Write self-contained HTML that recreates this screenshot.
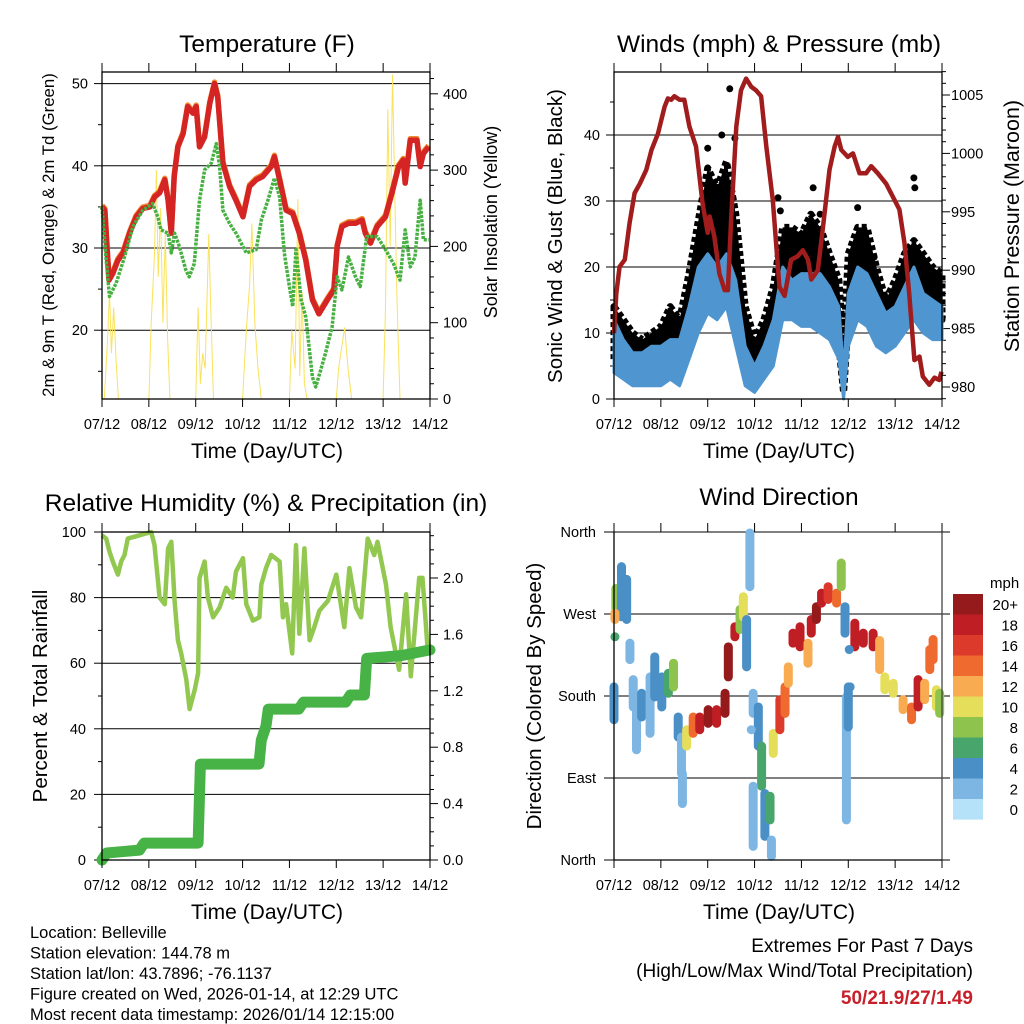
<!DOCTYPE html>
<html><head><meta charset="utf-8"><style>
html,body{margin:0;padding:0;background:#fff;}
svg{display:block;font-family:"Liberation Sans",sans-serif;}
</style></head><body>
<svg id="c" width="1024" height="1024" viewBox="0 0 1024 1024" xmlns="http://www.w3.org/2000/svg">
<rect width="1024" height="1024" fill="#fff"/>
</svg>
<script>
// ---------- DATA ----------
const dayLabels=["07/12","08/12","09/12","10/12","11/12","12/12","13/12","14/12"];
const tDays=[0,.06,.15,.23,.34,.45,.59,.73,.87,1.02,1.12,1.23,1.34,1.41,1.48,1.54,1.62,1.73,1.83,1.94,2.01,2.08,2.19,2.3,2.4,2.47,2.58,2.72,2.86,3.01,3.15,3.29,3.43,3.61,3.68,3.79,3.93,4.07,4.21,4.35,4.49,4.63,4.81,4.95,5.02,5.12,5.26,5.41,5.55,5.62,5.73,5.87,6.05,6.19,6.33,6.43,6.47,6.58,6.72,6.79,6.86,6.97];
const tempF=[35,34.6,26.1,26.9,28.5,29.4,31.8,33.8,34.8,35,36.2,36.7,38.3,35.8,31.8,38.7,42.3,43.9,47.2,46.4,47.2,42.3,43.5,47.6,50,48.4,40.3,37.5,35.8,33.8,37.5,38.3,38.7,39.9,41.1,38.3,34.6,34.2,31.8,28.5,23.7,22,23.7,24.9,30.2,32.6,33,33,33.4,31.8,30.6,32.6,33.8,36.7,39.9,40.7,37.9,43.1,43.1,39.9,41.5,42.3];
const tdDays=[0,.09,.16,.3,.48,.66,.87,1.08,1.19,1.26,1.41,1.48,1.55,1.65,1.79,1.86,1.97,2.08,2.19,2.33,2.44,2.51,2.58,2.72,2.86,3.08,3.29,3.4,3.54,3.68,3.79,3.89,4,4.07,4.14,4.25,4.35,4.49,4.56,4.67,4.77,4.91,5.02,5.12,5.26,5.41,5.51,5.65,5.87,6.05,6.22,6.36,6.47,6.58,6.68,6.79,6.86,6.97];
const dewF=[35,28.5,24.1,25.7,28.9,32.6,34.6,35.4,33.8,32.2,31.8,29.4,31.8,30.2,27.3,26.5,28.1,35.8,39.5,40.3,42.7,39.9,34.6,33,31.8,29.4,29.8,33.4,35.8,38.5,36.2,29.4,25.3,22.9,29.8,23.7,21.6,14.3,13.1,15.2,17.2,20.4,26.5,24.9,28.9,26.5,25.3,31.4,31.4,29.8,28.1,26.1,32.2,27.7,28.9,35.8,31,31];
const solDays=[0,.05,.12,.16,.2,.25,.3,.35,1,1.05,1.12,1.16,1.2,1.25,1.3,1.35,1.4,1.45,2,2.05,2.1,2.15,2.2,2.28,2.32,2.38,3,3.08,3.15,3.2,3.26,3.33,3.4,4,4.05,4.12,4.18,4.22,4.27,4.32,4.38,5,5.05,5.12,5.18,5.25,5.33,6,6.05,6.1,6.15,6.2,6.25,6.3,6.36,7];
const solarW=[0,0,80,140,60,120,50,0,0,100,190,300,160,250,100,216,80,0,0,120,20,60,40,216,120,0,0,90,150,230,100,40,0,0,90,40,262,30,140,20,0,0,40,70,94,40,0,0,120,380,200,425,260,120,0,0];

const pDays=[0,.05,.12,.23,.33,.44,.55,.69,.8,.94,1.08,1.15,1.22,1.29,1.4,1.5,1.61,1.75,1.89,2,2.04,2.14,2.25,2.36,2.43,2.5,2.61,2.71,2.82,2.93,3.03,3.14,3.25,3.39,3.53,3.64,3.78,3.92,4.03,4.14,4.21,4.35,4.46,4.6,4.71,4.78,4.85,4.99,5.1,5.24,5.38,5.49,5.63,5.81,5.95,6.09,6.2,6.3,6.41,6.52,6.59,6.73,6.84,6.94,6.99];
const pressMb=[984.6,988,990.3,990.9,994,996.6,997.4,998.6,1000.3,1001.7,1004,1004.7,1004.6,1004.9,1004.6,1004.6,1002.3,1000.6,995.7,993.2,994.6,992.9,989.7,988.3,988.3,994.3,1002.3,1005.4,1006.4,1005.7,1005.4,1004.9,1000.6,996,988.6,987.8,990.9,991.2,991.7,990.9,989.2,990,993.7,998.6,1000.6,1001.4,1000.3,999.7,1000,998.3,998.3,998.9,998.3,997.4,996.3,995.2,992.3,988,982.3,982.6,980.9,980.2,980.8,980.6,981.3];
const wDays=[0,.2,.4,.6,.8,1,1.2,1.4,1.6,1.8,2,2.2,2.4,2.6,2.8,3,3.2,3.4,3.6,3.8,4,4.2,4.4,4.6,4.8,4.9,5,5.2,5.4,5.6,5.8,6,6.2,6.4,6.6,6.8,7];
const windLo=[4,3,2,2,2,2,3,2,6,10,13,12,14,8,2,1,3,5,12,12,11,11,10,9,6,0,8,12,11,8,7,8,10,12,10,9,9];
const windHi=[12,9,7,7,8,8,9,9,14,20,22,20,22,18,8,5,8,12,20,18,19,19,19,17,14,4,16,20,19,16,13,14,17,20,16,15,14];
const gustLo=[6,5,4,4,4,5,6,5,9,14,18,18,20,10,4,2,5,8,15,16,15,14,13,11,8,1,12,15,15,12,8,10,14,14,12,12,12];
const gustHi=[14,12,10,9,10,11,14,12,19,27,35,32,36,28,14,9,12,17,26,26,25,28,26,22,18,8,22,26,26,20,15,18,22,24,22,20,19];
const gustDotDays=[2.47,3.5,3.55,4.25,2.0,6.4,6.42,5.2,5.55,4.4,2.58,1.7,2.3];
const gustDotMph=[47,30.5,28.5,32,38,33.5,32,29,21.5,28,39.5,20,40];

const rhDays=[0,.09,.16,.23,.34,.41,.48,.55,.8,1.05,1.12,1.23,1.34,1.41,1.48,1.55,1.62,1.69,1.8,1.87,1.98,2.05,2.08,2.19,2.26,2.37,2.51,2.65,2.79,2.86,3.01,3.08,3.22,3.36,3.4,3.5,3.61,3.79,3.86,3.93,4.06,4.14,4.21,4.32,4.43,4.53,4.64,4.82,5,5.17,5.28,5.42,5.53,5.67,5.81,5.88,6.06,6.16,6.34,6.49,6.59,6.77,6.84,6.95,7];
const rhPct=[99,98,94,91,87,91,93,98,99,100,96,80,78,95,97,79,67,63,55,46,52,57,86,91,80,74,77,83,80,88,92,78,73,74,84,89,93,91,74,78,63,96,69,95,67,71,76,79,87,71,89,77,74,98,93,97,84,71,58,81,56,86,86,64,64];
const prDays=[0,.1,.8,.9,2.05,2.1,3.35,3.4,3.5,3.55,4.2,4.3,5.2,5.3,5.6,5.65,6.4,7];
const precipIn=[0,.05,.07,.12,.12,.68,.68,.85,.95,1.07,1.07,1.12,1.12,1.17,1.17,1.43,1.45,1.49];

// wind direction streaks: day, dir low, dir high, speed
const wdDays=[0,.04,.16,.27,.34,.41,.48,.59,.77,.87,1.02,1.16,1.27,1.37,1.44,1.46,1.55,1.69,1.83,2.01,2.19,2.37,2.44,2.58,2.69,2.76,2.83,2.9,2.97,3.08,3.15,3.22,3.33,2.97,3.36,3.4,3.54,3.65,3.72,3.82,3.97,4.14,4.21,4.32,4.43,4.57,4.75,4.85,4.93,4.96,5,5.14,5.32,5.53,5.67,5.78,5.96,6.17,6.35,6.49,6.63,6.74,6.81,6.88,6.95,.02,.02,2.93,5.04,5.02];
const wdLo=[154,276,267,264,220,168,121,157,139,179,168,183,190,135,95,62,125,139,143,150,150,161,201,245,253,267,212,300,161,125,81,26,44,15,4,117,143,161,194,238,234,216,249,264,282,286,282,300,249,44,146,234,238,234,209,187,183,165,154,168,176,209,220,168,161,264,245,143,190,231];
const wdHi=[190,298,322,308,238,198,168,183,201,223,201,205,216,157,135,95,143,157,157,165,165,183,234,256,275,289,264,359,183,168,125,73,70,81,22,139,176,190,212,249,256,238,264,278,293,300,293,326,278,179,190,260,249,249,241,201,194,176,168,198,194,231,242,187,183,271,245,143,190,231];
const wdSpeed=[4,8,4,3,2,2,2,3,2,3,4,6,7,4,2,2,9,13,17,19,18,19,20,18,8,9,3,1,1,4,6,4,6,1,1,10,16,14,12,17,18,11,18,20,17,16,14,8,4,2,4,17,18,17,12,9,9,11,14,17,12,13,14,9,7,12,6,1,4,4];
const cbLabels=["20+","18","16","14","12","10","8","6","4","2","0"];
const cbColors=["#951a1c","#bf1f24","#dc3a2b","#ee6a2e","#f8ab50","#e5de5b","#8ec44e","#48a56c","#4a8fc6","#7db6e3","#b5e2f8"];

// ---------- HELPERS ----------
const NS="http://www.w3.org/2000/svg";
const svg=document.getElementById('c');
const TICK=14.5, TITLE=24.5, AXT=21;
function mk(tag,attrs,parent){const e=document.createElementNS(NS,tag);for(const k in attrs)e.setAttribute(k,attrs[k]);(parent||svg).appendChild(e);return e;}
function txt(s,x,y,size,anchor,parent,extra){const e=mk('text',Object.assign({x:x,y:y,'font-size':size,'text-anchor':anchor||'middle',fill:'#000'},extra||{}),parent);e.textContent=s;return e;}
function grp(name){const g=mk('g',{});return g;}
function poly(xs,ys,fx,fy){return xs.map((d,i)=>fx(d).toFixed(1)+','+fy(ys[i]).toFixed(1)).join(' ');}

function frame(g,L,R,T,B){mk('rect',{x:L,y:T,width:R-L,height:B-T,fill:'none',stroke:'#000','stroke-width':1.3},g);}
function xAxis(g,L,fx,T,B){
  dayLabels.forEach((lab,i)=>{const x=fx(i);
    mk('line',{x1:x,x2:x,y1:B,y2:B+8,stroke:'#000','stroke-width':1},g);
    mk('line',{x1:x,x2:x,y1:T,y2:T-9,stroke:'#000','stroke-width':1},g);
    const t=txt(lab,x,B+30,TICK,'middle',g);});
}
function hgrid(g,L,R,y){mk('line',{x1:L,x2:R,y1:y,y2:y,stroke:'#000','stroke-width':1},g);}

// ---------- PANEL 1: TEMPERATURE ----------
(function(){
const g=grp('temperature-panel');
const L=102,R=430,T=72,B=399;
const fx=d=>L+d*(R-L)/7;
const fy=v=>248-(v-30)*8.22;
const fw=w=>399-w*0.763;
const t=txt('Temperature (F)',267,52,TITLE,'middle',g);
[20,30,40,50].forEach(v=>hgrid(g,L,R,fy(v)));
for(let v=15;v<=50;v+=5){const y=fy(v);mk('line',{x1:L,x2:L-(v%10?4:8),y1:y,y2:y,stroke:'#000'},g);if(v%10===0){const l=txt(String(v),L-14,y+5,TICK,'end',g);}}
for(let w=0;w<=420;w+=20){const y=fw(w);mk('line',{x1:R,x2:R+(w%100?4:8),y1:y,y2:y,stroke:'#000'},g);if(w%100===0){const l=txt(String(w),R+13,y+5,TICK,'start',g);}}
const s=mk('polyline',{points:poly(solDays,solarW,fx,fw),fill:'none',stroke:'#f9e25c','stroke-width':1},g);

const o=mk('polyline',{points:poly(tDays,tempF,fx,fy),fill:'none',stroke:'#f08a30','stroke-width':5.5,'stroke-linejoin':'round',transform:'translate(0,-1.5)'},g);

const r=mk('polyline',{points:poly(tDays,tempF,fx,fy),fill:'none',stroke:'#d42424','stroke-width':5.5,'stroke-linejoin':'round'},g);

const gr=mk('polyline',{points:poly(tdDays,dewF,fx,fy),fill:'none',stroke:'#46b040','stroke-width':3.5,'stroke-dasharray':'3 1.2','stroke-linejoin':'round'},g);

frame(g,L,R,T,B);xAxis(g,L,fx,T,B);
const xt=txt('Time (Day/UTC)',267,458,AXT,'middle',g);
const yl=txt('2m & 9m T (Red, Orange) & 2m Td (Green)',0,0,16.8,'middle',g,{transform:'translate(54,235) rotate(-90)'});
const yr=txt('Solar Insolation (Yellow)',0,0,18,'middle',g,{transform:'translate(497,222) rotate(-90)'});
})();

// ---------- PANEL 2: WINDS ----------
(function(){
const g=grp('winds-panel');
const L=614,R=942,T=72,B=399;
const fx=d=>L+d*(R-L)/7;
const fy=v=>399-v*6.6;
const fp=p=>387-(p-980)*11.68;
const t=txt('Winds (mph) & Pressure (mb)',779,52,TITLE,'middle',g);
[10,20,30,40].forEach(v=>hgrid(g,L,R,fy(v)));
for(let v=0;v<=45;v+=5){const y=fy(v);mk('line',{x1:L,x2:L-(v%10?4:8),y1:y,y2:y,stroke:'#000'},g);if(v%10===0){const l=txt(String(v),L-14,y+5,TICK,'end',g);}}
for(let p=979;p<=1007;p++){const y=fp(p);mk('line',{x1:R,x2:R+(p%5?4:8),y1:y,y2:y,stroke:'#000'},g);if(p%5===0){const l=txt(String(p),R+9,y+5,TICK,'start',g);}}
const gpts=wDays.map((d,i)=>fx(d).toFixed(1)+','+fy(gustHi[i]).toFixed(1)).concat(wDays.map((d,i)=>fx(d).toFixed(1)+','+fy(gustLo[i]).toFixed(1)).reverse()).join(' ');
const gb=mk('polygon',{points:gpts,fill:'#000',stroke:'#000','stroke-width':7,'stroke-linejoin':'round','stroke-dasharray':'5 3'},g);

gustDotDays.forEach((d,i)=>{const c=mk('circle',{cx:fx(d),cy:fy(gustDotMph[i]),r:3.5,fill:'#000'},g);});
const bpts=wDays.map((d,i)=>fx(d).toFixed(1)+','+fy(windHi[i]).toFixed(1)).concat(wDays.map((d,i)=>fx(d).toFixed(1)+','+fy(windLo[i]).toFixed(1)).reverse()).join(' ');
const bb=mk('polygon',{points:bpts,fill:'#4f96d0',stroke:'#4f96d0','stroke-width':3,'stroke-linejoin':'round'},g);

const pl=mk('polyline',{points:poly(pDays,pressMb,fx,fp),fill:'none',stroke:'#a11c1c','stroke-width':4.5,'stroke-linejoin':'round'},g);

frame(g,L,R,T,B);xAxis(g,L,fx,T,B);
const xt=txt('Time (Day/UTC)',779,458,AXT,'middle',g);
const yl=txt('Sonic Wind & Gust (Blue, Black)',0,0,20.5,'middle',g,{transform:'translate(562,236) rotate(-90)'});
const yr=txt('Station Pressure (Maroon)',0,0,21.5,'middle',g,{transform:'translate(1019,226) rotate(-90)'});
})();

// ---------- PANEL 3: RH & PRECIP ----------
(function(){
const g=grp('humidity-precip-panel');
const L=102,R=430,T=532,B=860;
const fx=d=>L+d*(R-L)/7;
const fy=v=>860-v*3.28;
const fr=v=>860-v*141;
const t=txt('Relative Humidity (%) & Precipitation (in)',266,511,TITLE,'middle',g);
[20,40,60,80].forEach(v=>hgrid(g,L,R,fy(v)));
for(let v=0;v<=100;v+=10){const y=fy(v);mk('line',{x1:L,x2:L-(v%20?4:8),y1:y,y2:y,stroke:'#000'},g);if(v%20===0){const l=txt(String(v),L-16,y+5,TICK,'end',g);}}
for(let k=0;k<=23;k++){const v=k/10,y=fr(v);mk('line',{x1:R,x2:R+(k%4?4:8),y1:y,y2:y,stroke:'#000'},g);if(k%4===0){const l=txt(v.toFixed(1),R+13,y+5,TICK,'start',g);}}
const rh=mk('polyline',{points:poly(rhDays,rhPct,fx,fy),fill:'none',stroke:'#92c84f','stroke-width':4.5,'stroke-linejoin':'round'},g);

const pr=mk('polyline',{points:poly(prDays,precipIn,fx,fr),fill:'none',stroke:'#47b347','stroke-width':11,'stroke-linejoin':'round','stroke-linecap':'round'},g);

frame(g,L,R,T,B);xAxis(g,L,fx,T,B);
const xt=txt('Time (Day/UTC)',267,919,AXT,'middle',g);
const yl=txt('Percent & Total Rainfall',0,0,20.5,'middle',g,{transform:'translate(47,696) rotate(-90)'});
})();

// ---------- PANEL 4: WIND DIRECTION ----------
(function(){
const g=grp('wind-direction-panel');
const L=614,R=942,T=532,B=860;
const fx=d=>L+d*(R-L)/7;
const fy=v=>860-v*0.911;
const t=txt('Wind Direction',779,505,TITLE,'middle',g);
const dirLab=["North","East","South","West","North"];
dirLab.forEach((s,i)=>{const y=fy(i*90);mk('line',{x1:L-10,x2:R+8,y1:y,y2:y,stroke:'#000','stroke-width':1},g);const l=txt(s,L-18,y+5,TICK,'end',g);});
wdDays.forEach((d,i)=>{
  const ci=Math.max(0,10-Math.min(10,Math.round(wdSpeed[i]/2)));
  const x=fx(d),y1=fy(wdLo[i]),y2=fy(wdHi[i]);
  const m=mk('line',{x1:x,x2:x,y1:y1,y2:y2,stroke:cbColors[ci],'stroke-width':9,'stroke-linecap':'round'},g);
  
  
});
mk('line',{x1:L,x2:L,y1:T,y2:B,stroke:'#000','stroke-width':1.3},g);
mk('line',{x1:R,x2:R,y1:T,y2:B,stroke:'#444','stroke-width':1.3},g);
mk('line',{x1:L,x2:R,y1:B,y2:B,stroke:'#000','stroke-width':1.3},g);
xAxis(g,L,fx,T,B);
const xt=txt('Time (Day/UTC)',779,919,AXT,'middle',g);
const yl=txt('Direction (Colored By Speed)',0,0,20.5,'middle',g,{transform:'translate(541,696) rotate(-90)'});
const cb=grp('speed-colorbar');
const mt=txt('mph',990,588,15,'start',cb);
cbColors.forEach((c,i)=>{const y=594+i*20.5;const r=mk('rect',{x:953,y:y,width:30,height:20.6,fill:c},cb);
  const l=txt(cbLabels[i],1018,y+16,15,'end',cb);});
})();

// ---------- FOOTER ----------
(function(){
const g=grp('station-info');
["Location: Belleville","Station elevation: 144.78 m","Station lat/lon: 43.7896; -76.1137","Figure created on Wed, 2026-01-14, at 12:29 UTC","Most recent data timestamp: 2026/01/14 12:15:00"].forEach((s,i)=>{const t=txt(s,30,938+i*20.5,16.5,'start',g);});
const e=grp('extremes-summary');
const a=txt('Extremes For Past 7 Days',973,952,19,'end',e);
const b=txt('(High/Low/Max Wind/Total Precipitation)',973,977,19,'end',e);
const c=txt('50/21.9/27/1.49',973,1004,19,'end',e,{fill:'#c8202a','font-weight':'bold'});
})();
</script>
</body></html>
